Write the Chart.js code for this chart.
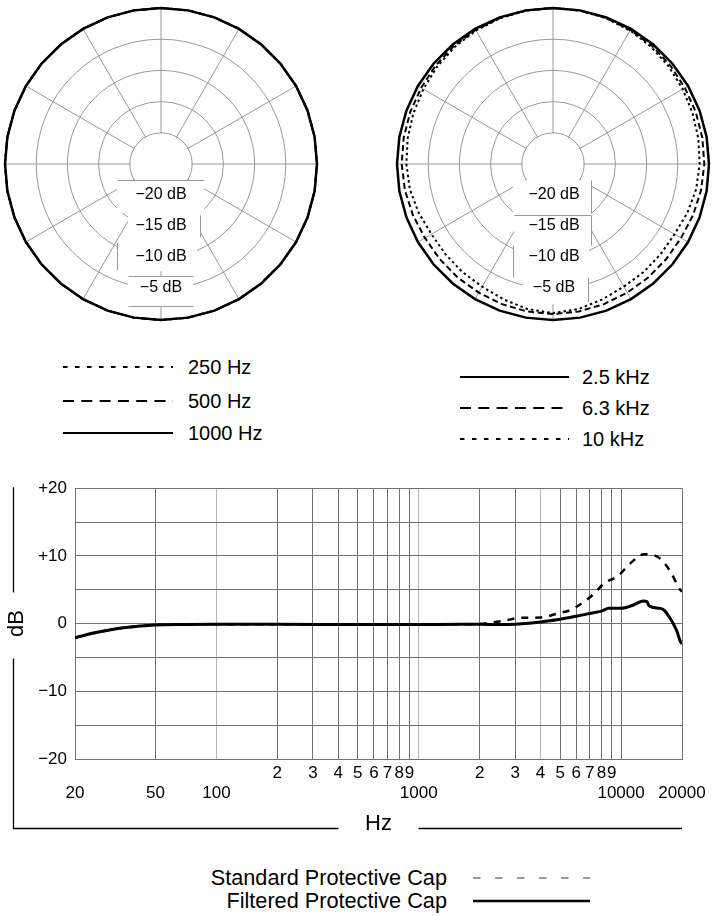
<!DOCTYPE html>
<html>
<head>
<meta charset="utf-8">
<title>Polar pattern and frequency response</title>
<script src="https://cdn.jsdelivr.net/npm/chart.js@4.4.1/dist/chart.umd.min.js"></script>
<style>
  body { margin: 0; background: #fff; font-family: "Liberation Sans", Arial, sans-serif; }
  #page { position: relative; width: 714px; height: 916px; overflow: hidden; background: #fff; }
  canvas { position: absolute; }
  .row { position: absolute; height: 24px; display: flex; align-items: center; color: #000; white-space: nowrap; }
  .row svg { display: block; flex: none; }
</style>
</head>
<body>
<div id="page">
  <canvas id="polarLeft" width="322" height="328" style="left:0;top:0"></canvas>
  <canvas id="polarRight" width="322" height="328" style="left:392px;top:0"></canvas>
  <canvas id="response" width="714" height="370" style="left:0;top:470px"></canvas>
  <div id="legends"></div>
</div>
<script>
// polar plots: one value (dB) every 10 degrees, 0 = front
const polarAngles = [0, 10, 20, 30, 40, 50, 60, 70, 80, 90, 100, 110, 120, 130, 140, 150, 160, 170,
                     180, 190, 200, 210, 220, 230, 240, 250, 260, 270, 280, 290, 300, 310, 320, 330, 340, 350];

const leftPolarLabels = ['250 Hz', '500 Hz', '1000 Hz'];
const polar250 = [0, 0, 0, 0, 0, 0, 0, 0, 0, 0, 0, 0, 0, 0, 0, 0, 0, 0,
                  0, 0, 0, 0, 0, 0, 0, 0, 0, 0, 0, 0, 0, 0, 0, 0, 0, 0];
const polar500 = [0, 0, 0, 0, 0, 0, 0, 0, 0, 0, 0, 0, 0, 0, 0, 0, 0, 0,
                  0, 0, 0, 0, 0, 0, 0, 0, 0, 0, 0, 0, 0, 0, 0, 0, 0, 0];
const polar1000 = [0, 0, 0, 0, 0, 0, 0, 0, 0, 0, 0, 0, 0, 0, 0, 0, 0, 0,
                   0, 0, 0, 0, 0, 0, 0, 0, 0, 0, 0, 0, 0, 0, 0, 0, 0, 0];

const rightPolarLabels = ['2.5 kHz', '6.3 kHz', '10 kHz'];
const polar2500 = [0, 0, 0, 0, 0, 0, 0, 0, 0, 0, 0, 0, 0, 0, 0, 0, 0, 0,
                   0, 0, 0, 0, 0, 0, 0, 0, 0, 0, 0, 0, 0, 0, 0, 0, 0, 0];
const polar6300 = [0, 0, -0.1, -0.2, -0.3, -0.45, -0.6, -0.65, -0.7, -0.75, -0.9, -1.1, -1.3, -1.3, -1.25, -1.2, -1.1, -1.0,
                   -0.95, -1.0, -1.1, -1.2, -1.25, -1.3, -1.3, -1.1, -0.9, -0.75, -0.7, -0.65, -0.6, -0.45, -0.3, -0.2, -0.1, 0];
const polar10000 = [0, -0.05, -0.15, -0.3, -0.5, -0.75, -1.0, -1.2, -1.35, -1.5, -1.7, -2.1, -2.5, -2.5, -2.4, -2.3, -1.9, -1.4,
                    -1.1, -1.4, -1.9, -2.3, -2.4, -2.5, -2.5, -2.1, -1.7, -1.5, -1.35, -1.2, -1.0, -0.75, -0.5, -0.3, -0.15, -0.05];

const ringValues = [-20, -15, -10, -5];
const ringLabels = ['\u221220 dB', '\u221215 dB', '\u221210 dB', '\u22125 dB'];

// frequency response
const responseLabels = ['Standard Protective Cap', 'Filtered Protective Cap'];
const freqStandard = [20, 23, 26.6, 32, 39, 50, 70, 100, 200, 500, 1000, 1600, 2000, 2300, 2620,
                      3160, 4000, 4500, 5000, 5500, 6330, 7340, 8200, 9700, 11100, 13000, 14000, 15600, 17460, 19500, 20000];
const dbStandard = [-2.1, -1.6, -1.2, -0.75, -0.45, -0.2, -0.12, -0.1, -0.1, -0.15, -0.15, -0.1, -0.05, 0.15, 0.4,
                    0.85, 0.9, 1.2, 1.6, 1.9, 2.9, 4.4, 5.9, 7.1, 8.9, 10.25, 10.2, 9.6, 7.75, 5.1, 4.7];
const freqFiltered = [20, 23, 26.6, 32, 39, 50, 70, 100, 200, 500, 1000, 1600, 2000, 2500, 3000, 3500, 4000,
                      5000, 6000, 7000, 8000, 8700, 10000, 11500, 12900, 13400, 13800, 15600, 16300, 17500, 18800, 19700, 20000];
const dbFiltered = [-2.1, -1.6, -1.2, -0.75, -0.45, -0.2, -0.12, -0.1, -0.1, -0.15, -0.15, -0.1, -0.1, -0.15, -0.1, 0.05, 0.25,
                    0.65, 1.1, 1.5, 1.85, 2.25, 2.25, 2.75, 3.35, 3.25, 2.6, 2.25, 2.0, 0.75, -1.0, -2.75, -3.0];

const xTickValues = [20, 50, 100, 200, 300, 400, 500, 600, 700, 800, 900, 1000,
                     2000, 3000, 4000, 5000, 6000, 7000, 8000, 9000, 10000, 20000];
const xTickTopRow = ['', '', '', '2', '3', '4', '5', '6', '7', '8', '9', '',
                     '2', '3', '4', '5', '6', '7', '8', '9', '', ''];
const xTickBottomRow = ['20', '50', '100', '', '', '', '', '', '', '', '', '1000',
                        '', '', '', '', '', '', '', '', '10000', '20000'];
const dbTickValues = [-20, -15, -10, -5, 0, 5, 10, 15, 20];
const dbTickLabels = ['\u221220', '', '\u221210', '', '0', '', '+10', '', '+20'];

const FONT = '"Liberation Sans", Arial, sans-serif';
Chart.defaults.font.family = FONT;
Chart.defaults.color = '#000';

// white centre and label boxes of the polar grids
const ringMask = {
    id: 'ringMask',
    beforeDatasetsDraw(chart, args, opts) {
        const r = chart.scales.r;
        const ctx = chart.ctx;
        const x0 = r.xCenter;
        const y0 = r.yCenter;
        ctx.save();
        ctx.fillStyle = '#fff';
        ctx.beginPath();
        ctx.arc(x0, y0, r.getDistanceFromCenterForValue(ringValues[0]) - 1, 0, Math.PI * 2);
        ctx.fill();

        opts.boxes.forEach(b => {
            ctx.fillRect(x0 + b[0], y0 + b[1], b[2] - b[0], b[3] - b[1]);
        });

        ctx.strokeStyle = '#9a9a9a';
        ctx.lineWidth = 1;
        ctx.beginPath();
        opts.edges.forEach(e => {
            ctx.moveTo(x0 + e[0] + 0.5, y0 + e[1] + 0.5);
            ctx.lineTo(x0 + e[2] + 0.5, y0 + e[3] + 0.5);
        });
        ctx.stroke();

        ctx.fillStyle = '#000';
        ctx.font = '16px ' + FONT;
        ctx.textAlign = 'center';
        ctx.textBaseline = 'middle';
        ringValues.forEach((v, i) => {
            const d = r.getDistanceFromCenterForValue(v);
            ctx.fillText(ringLabels[i], x0 + opts.labelDx, y0 + d - 1);
        });
        ctx.restore();
    }
};

const polarStyles = [
    { width: 2, dash: [2.5, 3], order: 2 },
    { width: 2, dash: [6, 3.5], order: 1 },
    { width: 2.5, dash: [], order: 0 }
];

function drawPolar(id, labels, series, mask) {
    return new Chart(document.getElementById(id), {
        type: 'radar',
        data: {
            labels: polarAngles.map(a => a + '\u00b0'),
            datasets: series.map((values, i) => ({
                label: labels[i],
                data: values,
                borderColor: '#000',
                backgroundColor: 'transparent',
                borderWidth: polarStyles[i].width,
                borderDash: polarStyles[i].dash,
                order: polarStyles[i].order,
                pointRadius: 0,
                fill: false,
                clip: false
            }))
        },
        options: {
            responsive: false,
            animation: false,
            layout: { padding: { left: 5, right: 5, top: 8, bottom: 8 } },
            plugins: {
                legend: { display: false },
                tooltip: { enabled: false },
                ringMask: mask
            },
            scales: {
                r: {
                    min: -25,
                    max: 0,
                    ticks: { stepSize: 5, display: false },
                    pointLabels: { display: false },
                    grid: { circular: true, color: '#999', lineWidth: 1 },
                    angleLines: { color: '#999', lineWidth: c => (c.index % 3 === 0 ? 1 : 0) }
                }
            }
        },
        plugins: [ringMask]
    });
}

drawPolar('polarLeft', leftPolarLabels, [polar250, polar500, polar1000], {
    labelDx: 0,
    boxes: [[-44, 16, 43, 49], [-33, 49, 39, 79], [-44, 79, 36, 107], [-33, 112, 32, 142]],
    edges: [[-44, 16, 43, 16], [39, 51, 39, 73], [-44, 79, -44, 106], [-33, 112, 32, 112], [-33, 142, 32, 142]]
});

drawPolar('polarRight', rightPolarLabels, [polar10000, polar6300, polar2500], {
    labelDx: 1,
    boxes: [[-40, 16, 38, 51], [-39, 51, 38, 81], [-40, 81, 36, 113], [-30, 113, 35, 140]],
    edges: [[38, 16, 38, 49], [-39, 51, 38, 51], [38, 51, 38, 81], [-40, 81, -40, 113], [35, 113, 35, 138]]
});

// axis lines with gaps for the "dB" and "Hz" titles
const axisFrame = {
    id: 'axisFrame',
    afterDraw(chart, args, o) {
        const ctx = chart.ctx;
        const a = chart.chartArea;
        const yMid = (a.top + a.bottom) / 2;
        const xMid = (a.left + a.right) / 2;
        ctx.save();
        ctx.strokeStyle = '#000';
        ctx.lineWidth = 1.3;
        ctx.beginPath();
        ctx.moveTo(o.x, a.top - 1);
        ctx.lineTo(o.x, yMid - o.gapTop);
        ctx.moveTo(o.x, yMid + o.gapBottom);
        ctx.lineTo(o.x, o.y);
        ctx.lineTo(xMid - o.gapX, o.y);
        ctx.moveTo(xMid + o.gapX, o.y);
        ctx.lineTo(a.right, o.y);
        ctx.stroke();
        ctx.restore();
    }
};

const lightGrid = [100, 1000, 4000];

new Chart(document.getElementById('response'), {
    type: 'line',
    data: {
        datasets: [
            {
                label: responseLabels[1],
                data: freqFiltered.map((f, i) => ({ x: f, y: dbFiltered[i] })),
                borderColor: '#000',
                borderWidth: 3,
                pointRadius: 0,
                cubicInterpolationMode: 'monotone',
                fill: false
            },
            {
                label: responseLabels[0],
                data: freqStandard.map((f, i) => ({ x: f, y: dbStandard[i] })),
                borderColor: '#000',
                borderWidth: 2.5,
                borderDash: [7, 7],
                pointRadius: 0,
                cubicInterpolationMode: 'monotone',
                fill: false
            }
        ]
    },
    options: {
        responsive: false,
        animation: false,
        layout: { padding: { top: 18, right: 32, bottom: 0, left: 0 } },
        plugins: {
            legend: { display: false },
            tooltip: { enabled: false },
            axisFrame: { x: 13.5, y: 358.5, gapTop: 31, gapBottom: 35, gapX: 40 }
        },
        scales: {
            x: {
                type: 'logarithmic',
                min: 20,
                max: 20000,
                afterBuildTicks: s => { s.ticks = xTickValues.map(v => ({ value: v })); },
                afterFit: s => { s.height = 81; },
                ticks: {
                    autoSkip: false,
                    maxRotation: 0,
                    minRotation: 0,
                    padding: 4,
                    font: { size: 17 },
                    color: '#000',
                    callback: (v, i) => [xTickTopRow[i], xTickBottomRow[i]]
                },
                grid: {
                    drawTicks: false,
                    lineWidth: 1,
                    color: c => (c.tick && lightGrid.includes(c.tick.value) ? '#b4b4b4' : '#707070')
                },
                border: { color: '#707070' },
                title: { display: true, text: 'Hz', font: { size: 22 }, padding: { top: 0, bottom: 3 } }
            },
            y: {
                min: -20,
                max: 20,
                afterBuildTicks: s => { s.ticks = dbTickValues.map(v => ({ value: v })); },
                afterFit: s => { s.width = 75; },
                ticks: {
                    padding: 8,
                    font: { size: 17 },
                    color: '#000',
                    callback: (v, i) => dbTickLabels[i]
                },
                grid: { drawTicks: false, lineWidth: 1, color: '#707070' },
                border: { color: '#707070' },
                title: { display: true, text: 'dB', font: { size: 22 }, padding: { top: 4, bottom: 0 } }
            }
        }
    },
    plugins: [axisFrame]
});

// legends (HTML, line samples as inline SVG)
const legends = document.getElementById('legends');

function sample(width, color, lineWidth, dash) {
    return '<svg width="' + width + '" height="24"><line x1="0" y1="12" x2="' + width + '" y2="12" stroke="' + color +
        '" stroke-width="' + lineWidth + '"' + (dash ? ' stroke-dasharray="' + dash + '"' : '') + '/></svg>';
}

function addRow(html, style) {
    const row = document.createElement('div');
    row.className = 'row';
    row.style.cssText = style;
    row.innerHTML = html;
    legends.appendChild(row);
}

const polarLegendDash = ['4.5 7.5', '11 7.3', ''];
const leftLegendY = [367, 401, 433];
const rightLegendY = [377, 408, 439];
const rightLegendOrder = [2, 1, 0]; // 2.5 kHz solid, 6.3 kHz dashed, 10 kHz dotted

leftPolarLabels.forEach((label, i) => {
    addRow(sample(110, '#000', 2, polarLegendDash[i]) + '<span style="margin-left:15px">' + label + '</span>',
        'left:63px; top:' + (leftLegendY[i] - 12) + 'px; font-size:20px;');
});
rightPolarLabels.forEach((label, i) => {
    addRow(sample(109, '#000', 2, polarLegendDash[rightLegendOrder[i]]) + '<span style="margin-left:13px">' + label + '</span>',
        'left:460px; top:' + (rightLegendY[i] - 12) + 'px; font-size:20px;');
});

const bottomLegendY = [878, 901];
const bottomLegendStyle = [
    { color: '#9a9a9a', width: 2, dash: '7.5 14.5' },
    { color: '#000', width: 2.5, dash: '' }
];
responseLabels.forEach((label, i) => {
    const st = bottomLegendStyle[i];
    addRow('<span style="margin-right:26px">' + label + '</span>' + sample(117, st.color, st.width, st.dash),
        'left:0; width:590px; justify-content:flex-end; top:' + (bottomLegendY[i] - 12) + 'px; font-size:21.7px;');
});
</script>
</body>
</html>
